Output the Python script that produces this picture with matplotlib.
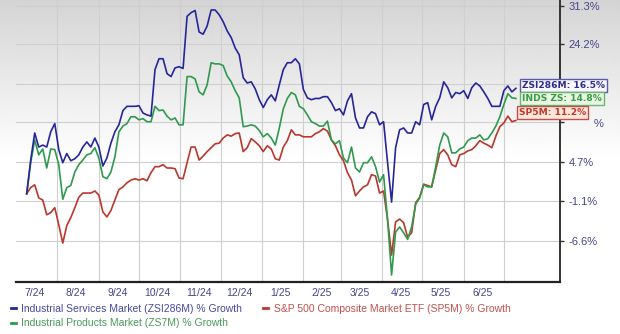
import numpy as np
import pandas as pd
import matplotlib
matplotlib.use("Agg")
import matplotlib.pyplot as plt
from matplotlib.lines import Line2D

plt.rcParams['font.family'] = ['Liberation Sans', 'DejaVu Sans']

# ---------------- data (growth %, every 3 days) ----------------
start_date = '2024-07-09'
services = [0, 5.0, 9.2, 7.0, 7.3, 7.0, 9.4, 10.7, 6.6, 4.6, 6.0, 4.9, 5.2, 5.8, 7.0, 7.8, 7.0, 8.4, 7.0, 4.1,
            5.3, 7.6, 9.4, 10.5, 12.8, 13.5, 13.5, 13.5, 13.6, 12.4, 12.1, 11.9, 19.7, 21.6, 21.6, 19.0, 18.5, 20.0, 20.2, 19.9,
            29.3, 30.0, 30.4, 26.4, 26.0, 27.5, 30.5, 30.5, 29.6, 28.3, 26.6, 25.4, 23.5, 22.3, 18.3, 17.4, 17.6, 16.4, 14.6, 13.3,
            14.6, 15.4, 14.4, 17.1, 19.7, 20.9, 20.9, 21.6, 20.7, 16.3, 14.9, 14.6, 14.8, 14.8, 15.1, 15.1, 14.1, 12.8, 13.1, 12.1,
            14.4, 15.6, 11.6, 10.0, 10.0, 11.8, 12.6, 12.3, 10.5, 11.0, 4.6, -1.2, 6.9, 9.7, 10.0, 9.2, 9.2, 11.0, 10.5, 13.8,
            14.1, 11.3, 13.5, 14.9, 17.6, 16.6, 14.9, 15.8, 15.6, 16.1, 14.8, 16.6, 17.4, 16.9, 15.9, 14.8, 13.5, 13.5, 13.5, 16.1,
            16.9, 15.9, 16.5]
products = [0, 4.6, 8.1, 5.8, 6.7, 3.8, 6.7, 6.6, 4.3, -0.8, 0.9, 1.2, 3.2, 4.3, 5.0, 5.8, 6.0, 6.9, 5.3, 2.5,
            2.2, 3.2, 5.5, 9.4, 10.3, 10.7, 11.8, 11.8, 11.3, 11.5, 11.0, 11.0, 13.5, 12.8, 12.9, 11.9, 11.3, 11.6, 10.5, 10.5,
            18.5, 18.5, 18.1, 15.9, 15.4, 17.1, 20.9, 20.7, 20.7, 20.4, 18.6, 17.6, 16.1, 14.9, 10.2, 10.3, 10.5, 10.3, 9.6, 8.6,
            9.1, 8.4, 7.3, 10.0, 13.1, 14.8, 15.8, 15.4, 13.5, 13.1, 12.1, 11.0, 10.7, 10.3, 10.3, 11.1, 8.1, 7.5, 8.0, 5.3,
            4.6, 7.0, 3.8, 3.2, 4.6, 4.6, 5.5, 4.0, 1.7, 2.8, -3.7, -11.1, -5.4, -4.7, -5.5, -6.4, -4.7, -1.5, -0.6, 1.3,
            1.0, 1.0, 4.0, 7.3, 9.2, 8.6, 6.1, 6.1, 6.7, 7.0, 8.0, 8.4, 8.4, 8.9, 8.1, 8.3, 9.2, 10.3, 11.8, 13.8,
            15.6, 14.9, 14.8]
sp500 = [0, 0.9, 1.3, -0.6, -0.9, -3.0, -2.7, -2.0, -4.4, -6.9, -4.5, -3.4, -2.0, -0.5, 0.1, 0.1, 0.1, 0.4, -0.2, -2.6,
         -3.3, -2.4, -0.9, 0.6, 1.0, 1.6, 2.0, 2.2, 2.0, 2.2, 1.9, 3.1, 4.0, 4.0, 4.3, 3.8, 3.8, 3.7, 2.3, 2.2,
         4.6, 7.0, 7.0, 5.0, 5.6, 6.3, 6.9, 7.5, 7.6, 8.4, 8.9, 8.7, 9.1, 9.2, 6.3, 6.9, 8.3, 7.8, 7.2, 6.3,
         7.2, 6.7, 5.2, 5.0, 7.0, 8.0, 9.7, 8.9, 8.9, 8.6, 8.6, 8.6, 9.1, 9.4, 9.9, 9.5, 8.1, 7.2, 5.8, 4.9,
         3.1, 2.0, -0.3, 0.4, 1.0, 1.3, 2.8, 2.6, 0.1, 0.4, -3.7, -8.5, -4.0, -3.6, -4.1, -6.1, -5.5, -1.3, -0.5, 1.4,
         1.2, 1.0, 3.5, 6.0, 6.6, 5.8, 4.3, 4.0, 5.8, 6.0, 6.4, 6.6, 7.2, 8.0, 7.6, 7.3, 6.9, 8.7, 10.2, 10.8,
         11.9, 11.0, 11.2]

month_labels = ['7/24', '8/24', '9/24', '10/24', '11/24', '12/24',
                '1/25', '2/25', '3/25', '4/25', '5/25', '6/25']
y_ticks = [31.3, 24.2, 17.3, 10.9, 4.7, -1.1, -6.6]
# labels of 17.3% and 10.9% are covered by the end-value boxes in the chart
y_tick_labels = ['31.3%', '24.2%', '', '', '4.7%', '-1.1%', '-6.6%']

series_names = ['Industrial Services Market (ZSI286M) % Growth',
                'Industrial Products Market (ZS7M) % Growth',
                'S&P 500 Composite Market ETF (SP5M) % Growth']
end_labels = ['ZSI286M: 16.5%', 'INDS ZS: 14.8%', 'SP5M: 11.2%']

# ---------------- style ----------------
c_blue, c_green, c_red = '#26269a', '#2f9a4e', '#b8382c'
leg_blue, leg_green, leg_red = '#4848a0', '#4a9a5a', '#c0504d'
tick_col = '#45458a'

W, H = 620, 334
fig = plt.figure(figsize=(W / 100, H / 100), dpi=100)

# background gradient (grey at top fading to white)
bg = fig.add_axes([0, 0, 1, 1], zorder=-10)
rows = np.arange(H)
shade = np.clip(0.83 + 0.17 * rows / 160.0, 0, 1)
bg.imshow(np.tile(shade[:, None], (1, 4)), cmap='gray', vmin=0, vmax=1,
          aspect='auto', extent=[0, 1, 0, 1], origin='upper', interpolation='bilinear')
bg.axis('off')

ax = fig.add_axes([16 / W, (H - 282) / H, 544 / W, 282 / H])
ax.set_facecolor('none')

dates = pd.date_range(start_date, periods=len(services), freq='3D')

fwd = lambda g: np.log1p(np.asarray(g, dtype=float) / 100.0)
inv = lambda v: np.expm1(np.asarray(v, dtype=float)) * 100.0
ax.set_yscale('function', functions=(fwd, inv))

ax.plot(dates, sp500, color=c_red, lw=1.2, zorder=3)
ax.plot(dates, products, color=c_green, lw=1.2, zorder=4)
ax.plot(dates, services, color=c_blue, lw=1.2, zorder=5)

ax.set_xlim(pd.Timestamp('2024-07-01'), pd.Timestamp('2025-08-12'))
ax.set_ylim(-12.0, 32.4)

# grid
month_starts = pd.date_range('2024-08-01', '2025-07-01', freq='MS')
for d in month_starts:
    ax.axvline(d, color='#cfcfcf', lw=0.8, zorder=1)
for t in y_ticks:
    ax.axhline(t, color='#cfcfcf', lw=0.8, zorder=1)

# x ticks at mid-month
mid = pd.date_range('2024-07-01', '2025-06-01', freq='MS') + pd.Timedelta(days=14)
ax.set_xticks(mid)
ax.set_xticklabels(month_labels)
ax.tick_params(axis='x', length=0, pad=4, labelsize=7.5, labelcolor=tick_col)

# y ticks on right
ax.yaxis.tick_right()
ax.set_yticks(y_ticks)
ax.set_yticklabels(y_tick_labels)
ax.yaxis.set_minor_locator(matplotlib.ticker.NullLocator())
ax.tick_params(axis='y', direction='out', length=3, width=1, color='#333333',
               pad=3, labelsize=8, labelcolor=tick_col)
# visible remainder of the covered 10.9% label
fig.text(603 / W, 1 - 124 / H, '%', ha='right', va='center', fontsize=8, color=tick_col)

for s in ['top', 'left']:
    ax.spines[s].set_visible(False)
ax.spines['bottom'].set_color('#222222')
ax.spines['bottom'].set_linewidth(1.6)
ax.spines['right'].set_color('#333333')
ax.spines['right'].set_linewidth(1.4)

# end labels
box_specs = [
    (services, end_labels[0], '#2e2e8a', '#f6f6fc', '#5a5aa8', 6, 3),
    (products, end_labels[1], '#3a9a48', '#eaf6e4', '#6ab86e', 6, 0),
    (sp500, end_labels[2], '#c0392b', '#fbe7da', '#c0504d', 3, 8),
]
for vals, txt, tc, fc, ec, dx, dy in box_specs:
    ax.annotate(txt, xy=(dates[-1], vals[-1]), xytext=(dx, dy), textcoords='offset pixels',
                ha='left', va='center', fontsize=6.6, fontweight='bold', color=tc,
                family='DejaVu Sans',
                bbox=dict(boxstyle='square,pad=0.25', fc=fc, ec=ec, lw=1),
                annotation_clip=False, zorder=10)

# legend
handles = [Line2D([], [], color=c, lw=2) for c in (c_blue, c_green, c_red)]
leg = fig.legend(handles, series_names, loc='upper left',
                 bbox_to_anchor=(11 / W, 1 - 304 / H), ncol=2, frameon=False,
                 fontsize=7.5, handlelength=0.5, handletextpad=0.5,
                 columnspacing=2.0, labelspacing=0.4, borderpad=0, borderaxespad=0)
for t, c in zip(leg.get_texts(), (leg_blue, leg_green, leg_red)):
    t.set_color(c)

fig.savefig('out.png', dpi=100)
